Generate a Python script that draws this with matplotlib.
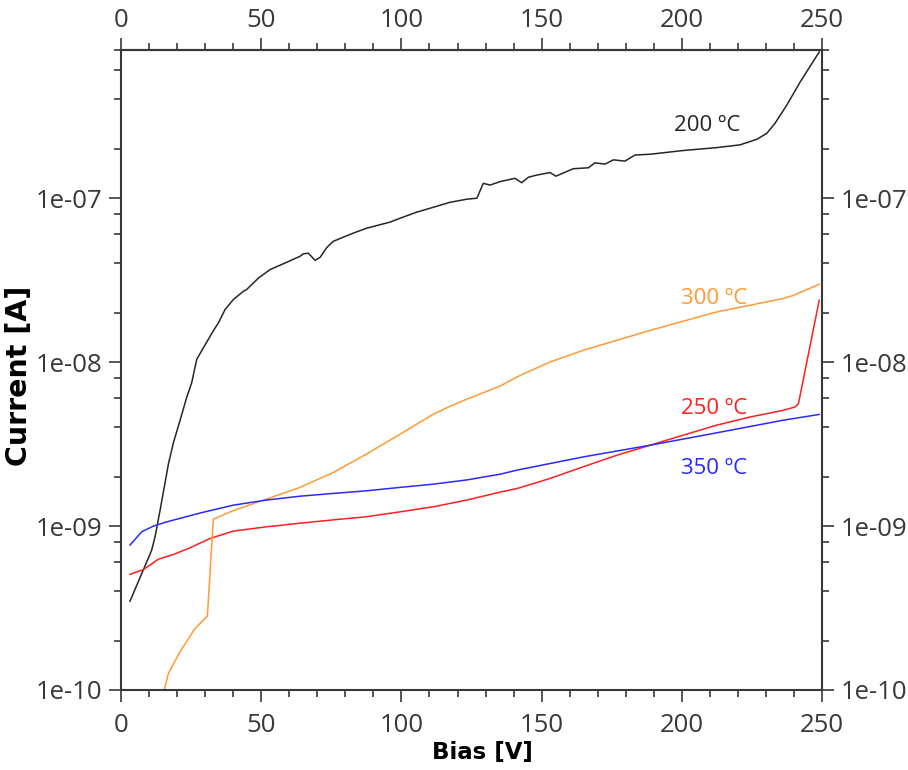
import numpy as np
import matplotlib
matplotlib.use("Agg")
import matplotlib.pyplot as plt
from matplotlib.ticker import FixedLocator, FuncFormatter, NullFormatter

# IV curves at four annealing temperatures
bias_200 = [3.2, 10.9, 12.1, 13.9, 16.9, 18.7, 21.0, 23.4, 25.2, 27.0, 32.9, 34.7, 37.1,
            40.0, 43.6, 44.8, 49.0, 53.1, 59.1, 63.8, 65.0, 66.8, 69.2, 71.0, 73.4, 75.7,
            82.8, 87.6, 95.9, 99.5, 105.4, 111.4, 117.3, 123.3, 126.9, 129.2, 131.6, 135.2,
            140.5, 142.9, 145.3, 148.2, 153.0, 155.1, 161.3, 166.7, 169.0, 172.6, 175.6,
            179.7, 183.3, 188.7, 200.5, 212.4, 220.7, 226.7, 230.3, 233.2, 237.4, 242.2, 249.0]
cur_200 = [3.48e-10, 7.10e-10, 8.55e-10, 1.24e-9, 2.39e-9, 3.23e-9, 4.38e-9, 6.07e-9,
           7.48e-9, 1.04e-8, 1.55e-8, 1.73e-8, 2.09e-8, 2.40e-8, 2.70e-8, 2.77e-8, 3.25e-8,
           3.66e-8, 4.06e-8, 4.41e-8, 4.57e-8, 4.61e-8, 4.17e-8, 4.35e-8, 5.00e-8, 5.45e-8,
           6.11e-8, 6.55e-8, 7.13e-8, 7.53e-8, 8.20e-8, 8.79e-8, 9.42e-8, 9.84e-8, 9.98e-8,
           1.23e-7, 1.20e-7, 1.26e-7, 1.32e-7, 1.24e-7, 1.34e-7, 1.38e-7, 1.43e-7, 1.36e-7,
           1.51e-7, 1.53e-7, 1.64e-7, 1.61e-7, 1.71e-7, 1.68e-7, 1.83e-7, 1.85e-7, 1.95e-7,
           2.03e-7, 2.11e-7, 2.28e-7, 2.48e-7, 2.85e-7, 3.68e-7, 5.10e-7, 7.78e-7]

bias_250 = [3.2, 8.0, 13.3, 18.7, 24.6, 31.7, 40.0, 51.9, 63.8, 75.7, 87.6, 99.5, 111.4,
            123.3, 135.2, 141.1, 153.0, 164.9, 176.8, 188.7, 200.5, 212.4, 224.3, 236.2,
            240.4, 241.6, 249.0]
cur_250 = [5.07e-10, 5.43e-10, 6.27e-10, 6.71e-10, 7.36e-10, 8.39e-10, 9.31e-10, 9.89e-10,
           1.04e-9, 1.09e-9, 1.14e-9, 1.22e-9, 1.31e-9, 1.44e-9, 1.61e-9, 1.69e-9, 1.95e-9,
           2.30e-9, 2.70e-9, 3.11e-9, 3.58e-9, 4.12e-9, 4.62e-9, 5.08e-9, 5.32e-9, 5.58e-9,
           2.38e-8]

bias_300 = [15.4, 16.9, 21.0, 26.4, 30.8, 32.9, 40.0, 51.9, 63.8, 75.7, 87.6, 99.5, 111.4,
            117.3, 123.3, 135.2, 142.5, 153.0, 164.9, 188.7, 212.4, 236.2, 239.8, 249.0]
cur_300 = [1.00e-10, 1.26e-10, 1.71e-10, 2.37e-10, 2.83e-10, 1.10e-9, 1.24e-9, 1.46e-9,
           1.72e-9, 2.12e-9, 2.75e-9, 3.63e-9, 4.81e-9, 5.37e-9, 5.93e-9, 7.14e-9, 8.32e-9,
           1.00e-8, 1.18e-8, 1.56e-8, 2.02e-8, 2.44e-8, 2.55e-8, 2.98e-8]

bias_350 = [3.2, 7.4, 11.5, 16.3, 28.2, 40.0, 51.9, 63.8, 75.7, 87.6, 99.5, 111.4, 123.3,
            135.2, 141.1, 164.9, 188.7, 212.4, 236.2, 249.0]
cur_350 = [7.66e-10, 9.23e-10, 9.98e-10, 1.06e-9, 1.20e-9, 1.34e-9, 1.44e-9, 1.52e-9,
           1.58e-9, 1.64e-9, 1.72e-9, 1.80e-9, 1.91e-9, 2.07e-9, 2.19e-9, 2.64e-9, 3.11e-9,
           3.70e-9, 4.42e-9, 4.79e-9]

labels = ["200 ºC", "250 ºC", "300 ºC", "350 ºC"]
colors = ["#262626", "#ff2020", "#ff9a35", "#2a2aff"]
label_pos = [(197.2, 2.57e-7), (199.6, 4.81e-9), (199.6, 2.27e-8), (199.6, 2.07e-9)]

x_major = [0, 50, 100, 150, 200, 250]
x_minor = [v for v in range(0, 251, 10) if v % 50]
y_major = [1e-10, 1e-9, 1e-8, 1e-7]
y_minor = [m * d for d in [1e-10, 1e-9, 1e-8, 1e-7] for m in (2, 4, 6, 8)]

plt.rcParams["font.family"] = ["Open Sans", "DejaVu Sans"]
edge = "#383838"

fig = plt.figure(figsize=(9.08, 7.7), dpi=100)
ax = fig.add_axes([0.1333, 0.1039, 0.772, 0.8312])

series = [(bias_200, cur_200), (bias_250, cur_250), (bias_300, cur_300), (bias_350, cur_350)]
for (b, c), col in zip(series, colors):
    ax.plot(b, c, color=col, lw=1.1)

for (tx, ty), lab, col in zip(label_pos, labels, colors):
    ax.text(tx, ty, lab, color=col, fontsize=16, ha="left", va="baseline")

ax.set_yscale("log")
ax.set_xlim(0, 250)
ax.set_ylim(1e-10, 8e-7)

ax.xaxis.set_major_locator(FixedLocator(x_major))
ax.xaxis.set_minor_locator(FixedLocator(x_minor))
ax.yaxis.set_major_locator(FixedLocator(y_major))
ax.yaxis.set_minor_locator(FixedLocator(y_minor))
ax.yaxis.set_major_formatter(FuncFormatter(lambda v, p: "1e-%02d" % round(-np.log10(v))))
ax.yaxis.set_minor_formatter(NullFormatter())

ax.tick_params(which="both", direction="out", top=False, right=True,
               labelright=True, colors=edge, labelsize=18.5, width=1.2)
ax.tick_params(which="major", length=8.5, pad=5)
ax.tick_params(which="minor", length=5)
ax.tick_params(axis="x", which="major", pad=8)

# separate top axis so its labels can sit closer to the ticks
top = ax.secondary_xaxis("top")
top.xaxis.set_major_locator(FixedLocator(x_major))
top.xaxis.set_minor_locator(FixedLocator(x_minor))
top.tick_params(which="both", direction="out", colors=edge, labelsize=18.5, width=1.2)
top.tick_params(which="major", length=8.5, pad=3.5)
top.tick_params(which="minor", length=5)

for s in list(ax.spines.values()) + list(top.spines.values()):
    s.set_color(edge)
    s.set_linewidth(1.5)

ax.set_xlabel("Bias [V]", family="DejaVu Sans", weight="bold", fontsize=16.5)
ax.set_ylabel("Current [A]", family="DejaVu Sans", weight="bold", fontsize=20.5)
ax.xaxis.set_label_coords(0.515, -0.08)
ax.yaxis.set_label_coords(-0.126, 0.491)

fig.savefig("out.png", dpi=100)
